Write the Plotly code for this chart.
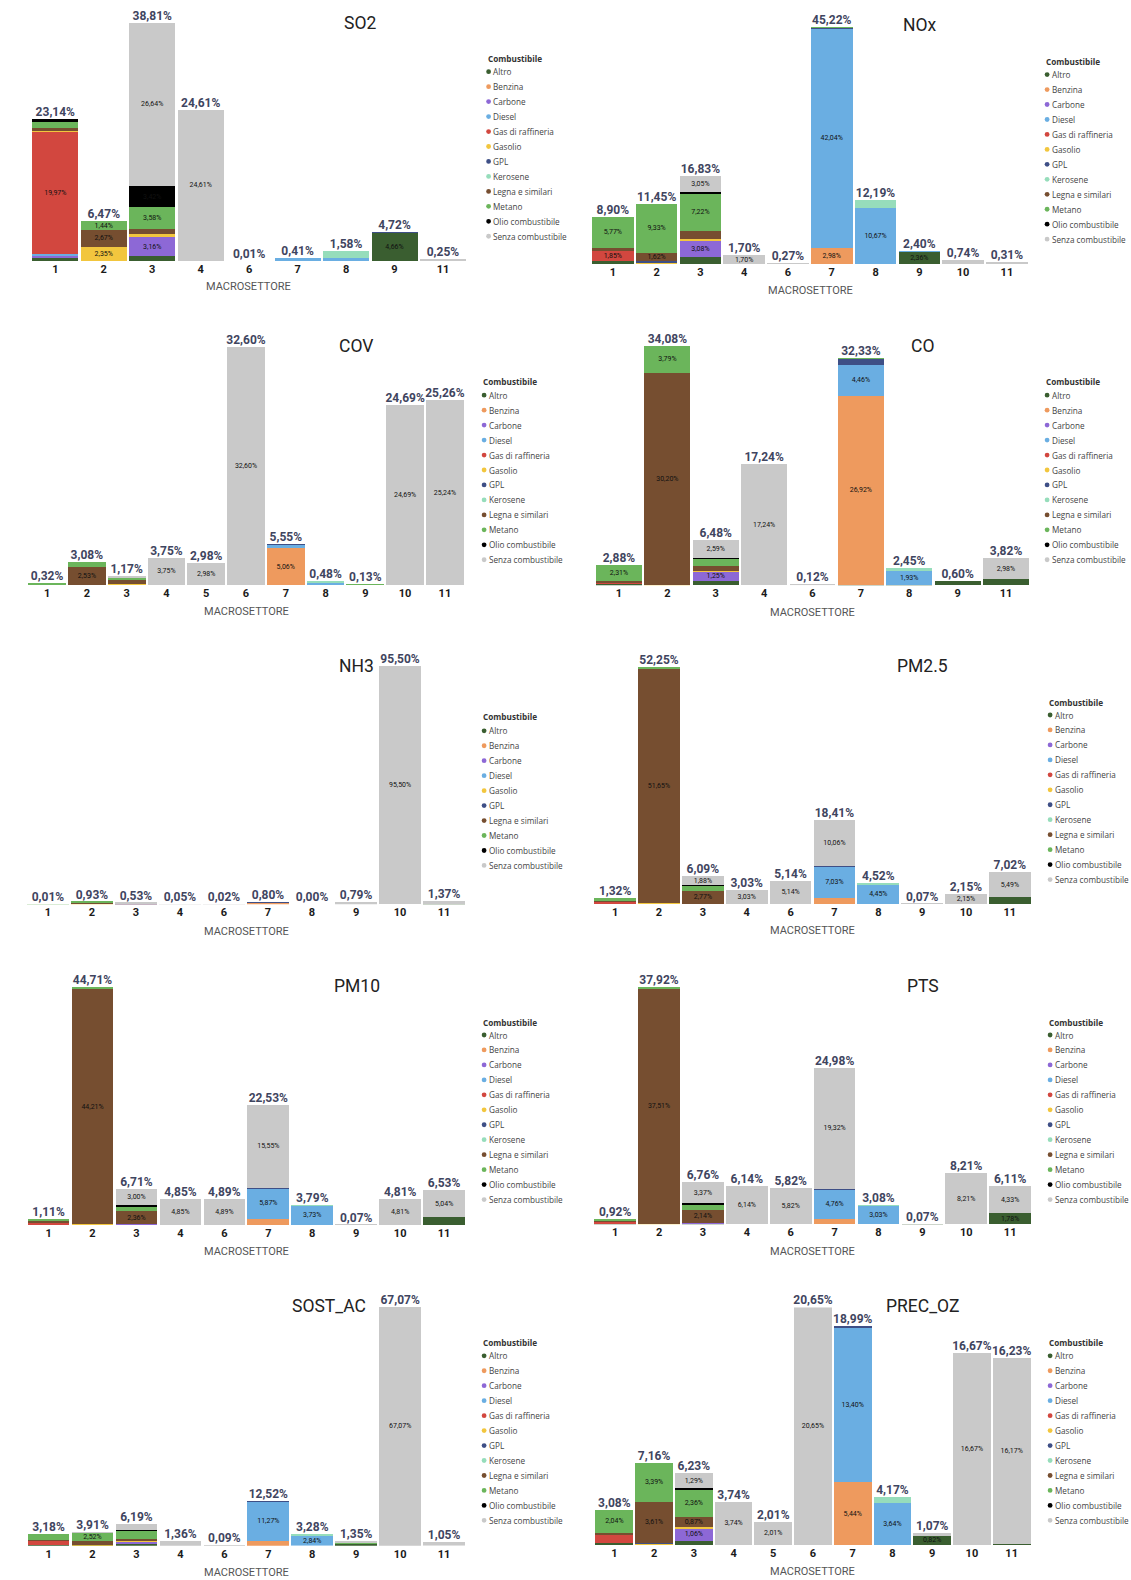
import plotly.graph_objects as go

W, H = 1131, 1580

FUELS = ["Altro", "Benzina", "Carbone", "Diesel", "Gas di raffineria", "Gasolio",
         "GPL", "Kerosene", "Legna e similari", "Metano", "Olio combustibile",
         "Senza combustibile"]
FUEL_COLORS = ["#3A5E30", "#EE9A5E", "#8D68D6", "#6AAEE2", "#D2473F", "#F2C63E",
               "#3E4F86", "#96DDBB", "#764E30", "#6BB55B", "#000000", "#C9C9C9"]

# ---------------- SO2 ----------------
SO2_SECTORS = ["1", "2", "3", "4", "6", "7", "8", "9", "11"]
SO2_VALUES = {
    "Altro":              [0.62, 0.01, 0.76, 0, 0, 0, 0, 4.66, 0],
    "Benzina":            [0, 0, 0, 0, 0, 0.20, 0, 0, 0],
    "Carbone":            [0.30, 0, 3.16, 0, 0, 0, 0, 0, 0],
    "Diesel":             [0.20, 0, 0, 0, 0, 0.21, 0.46, 0, 0],
    "Gas di raffineria":  [19.97, 0, 0, 0, 0, 0, 0, 0, 0],
    "Gasolio":            [0.22, 2.35, 0.49, 0, 0, 0, 0, 0, 0],
    "GPL":                [0, 0, 0, 0, 0, 0, 0, 0.06, 0],
    "Kerosene":           [0, 0, 0, 0, 0, 0, 1.12, 0, 0],
    "Legna e similari":   [0.30, 2.67, 0.76, 0, 0, 0, 0, 0, 0],
    "Metano":             [1.04, 1.44, 3.58, 0, 0, 0, 0, 0, 0],
    "Olio combustibile":  [0.49, 0, 3.42, 0, 0, 0, 0, 0, 0],
    "Senza combustibile": [0, 0, 26.64, 24.61, 0.01, 0, 0, 0, 0.25],
}

# ---------------- NOx ----------------
NOX_SECTORS = ["1", "2", "3", "4", "6", "7", "8", "9", "10", "11"]
NOX_VALUES = {
    "Altro":              [0.65, 0, 1.26, 0, 0, 0, 0, 2.36, 0, 0],
    "Benzina":            [0, 0, 0, 0, 0, 2.98, 0, 0, 0, 0],
    "Carbone":            [0, 0, 3.08, 0, 0, 0, 0, 0, 0, 0],
    "Diesel":             [0, 0, 0, 0, 0, 42.04, 10.67, 0.04, 0, 0],
    "Gas di raffineria":  [1.85, 0, 0, 0, 0, 0, 0, 0, 0, 0],
    "Gasolio":            [0, 0.30, 0.38, 0, 0, 0, 0, 0, 0, 0],
    "GPL":                [0, 0.20, 0, 0, 0, 0.12, 0, 0, 0, 0],
    "Kerosene":           [0, 0, 0, 0, 0, 0, 1.52, 0, 0, 0],
    "Legna e similari":   [0.63, 1.62, 1.59, 0, 0, 0, 0, 0, 0, 0],
    "Metano":             [5.77, 9.33, 7.22, 0, 0, 0.08, 0, 0, 0, 0],
    "Olio combustibile":  [0, 0, 0.25, 0, 0, 0, 0, 0, 0, 0],
    "Senza combustibile": [0, 0, 3.05, 1.70, 0.27, 0, 0, 0, 0.74, 0.31],
}

# ---------------- COV ----------------
COV_SECTORS = ["1", "2", "3", "4", "5", "6", "7", "8", "9", "10", "11"]
COV_VALUES = {
    "Altro":              [0.05, 0, 0.10, 0, 0, 0, 0, 0, 0.08, 0, 0.02],
    "Benzina":            [0, 0, 0, 0, 0, 0, 5.06, 0, 0, 0, 0],
    "Carbone":            [0, 0, 0.05, 0, 0, 0, 0, 0, 0, 0, 0],
    "Diesel":             [0, 0, 0, 0, 0, 0, 0.46, 0.40, 0, 0, 0],
    "Gas di raffineria":  [0.03, 0, 0, 0, 0, 0, 0, 0, 0, 0, 0],
    "Gasolio":            [0, 0, 0.02, 0, 0, 0, 0, 0, 0, 0, 0],
    "GPL":                [0, 0, 0, 0, 0, 0, 0.03, 0, 0, 0, 0],
    "Kerosene":           [0, 0, 0, 0, 0, 0, 0, 0.08, 0, 0, 0],
    "Legna e similari":   [0.04, 2.53, 0.55, 0, 0, 0, 0, 0, 0, 0, 0],
    "Metano":             [0.20, 0.55, 0.28, 0, 0, 0, 0, 0, 0.05, 0, 0],
    "Olio combustibile":  [0, 0, 0.02, 0, 0, 0, 0, 0, 0, 0, 0],
    "Senza combustibile": [0, 0, 0.15, 3.75, 2.98, 32.60, 0, 0, 0, 24.69, 25.24],
}

# ---------------- CO ----------------
CO_SECTORS = ["1", "2", "3", "4", "6", "7", "8", "9", "11"]
CO_VALUES = {
    "Altro":              [0.22, 0, 0.65, 0, 0, 0.05, 0.05, 0.60, 0.84],
    "Benzina":            [0, 0, 0, 0, 0, 26.92, 0, 0, 0],
    "Carbone":            [0, 0, 1.25, 0, 0, 0, 0, 0, 0],
    "Diesel":             [0, 0, 0, 0, 0, 4.46, 1.93, 0, 0],
    "Gas di raffineria":  [0.18, 0, 0, 0, 0, 0, 0, 0, 0],
    "Gasolio":            [0, 0.09, 0.08, 0, 0, 0, 0, 0, 0],
    "GPL":                [0, 0, 0, 0, 0, 0.80, 0, 0, 0],
    "Kerosene":           [0, 0, 0, 0, 0, 0, 0.47, 0, 0],
    "Legna e similari":   [0.17, 30.20, 0.74, 0, 0, 0, 0, 0, 0],
    "Metano":             [2.31, 3.79, 1.12, 0, 0, 0.10, 0, 0, 0],
    "Olio combustibile":  [0, 0, 0.05, 0, 0, 0, 0, 0, 0],
    "Senza combustibile": [0, 0, 2.59, 17.24, 0.12, 0, 0, 0, 2.98],
}

# ---------------- NH3 ----------------
NH3_SECTORS = ["1", "2", "3", "4", "6", "7", "8", "9", "10", "11"]
NH3_VALUES = {
    "Altro":              [0, 0, 0, 0, 0, 0, 0, 0, 0, 0.02],
    "Benzina":            [0, 0, 0, 0, 0, 0.77, 0, 0, 0, 0],
    "Carbone":            [0, 0, 0.01, 0, 0, 0, 0, 0, 0, 0],
    "Diesel":             [0, 0, 0, 0, 0, 0.02, 0, 0, 0, 0],
    "Gasolio":            [0, 0.01, 0, 0, 0, 0, 0, 0, 0, 0],
    "GPL":                [0, 0, 0, 0, 0, 0.01, 0, 0, 0, 0],
    "Legna e similari":   [0, 0.90, 0.15, 0, 0, 0, 0, 0, 0, 0],
    "Metano":             [0.01, 0.02, 0.02, 0, 0, 0, 0, 0, 0, 0],
    "Olio combustibile":  [0, 0, 0.01, 0, 0, 0, 0, 0, 0, 0],
    "Senza combustibile": [0, 0, 0.34, 0.05, 0.02, 0, 0, 0.79, 95.50, 1.35],
}

# ---------------- PM2.5 ----------------
PM25_SECTORS = ["1", "2", "3", "4", "6", "7", "8", "9", "10", "11"]
PM25_VALUES = {
    "Altro":              [0.04, 0, 0.06, 0, 0, 0, 0, 0.04, 0, 1.53],
    "Benzina":            [0, 0, 0, 0, 0, 1.31, 0, 0, 0, 0],
    "Carbone":            [0, 0, 0.04, 0, 0, 0, 0, 0, 0, 0],
    "Diesel":             [0, 0, 0, 0, 0, 7.03, 4.45, 0, 0, 0],
    "Gas di raffineria":  [0.62, 0, 0, 0, 0, 0, 0, 0, 0, 0],
    "Gasolio":            [0, 0.14, 0, 0, 0, 0, 0, 0, 0, 0],
    "GPL":                [0, 0, 0, 0, 0, 0.01, 0, 0, 0, 0],
    "Kerosene":           [0, 0, 0, 0, 0, 0, 0.07, 0, 0, 0],
    "Legna e similari":   [0.06, 51.65, 2.77, 0, 0, 0, 0, 0, 0, 0],
    "Metano":             [0.60, 0.46, 1.17, 0, 0, 0, 0, 0, 0, 0],
    "Olio combustibile":  [0, 0, 0.17, 0, 0, 0, 0, 0, 0, 0],
    "Senza combustibile": [0, 0, 1.88, 3.03, 5.14, 10.06, 0, 0.03, 2.15, 5.49],
}

# ---------------- PM10 ----------------
PM10_SECTORS = ["1", "2", "3", "4", "6", "7", "8", "9", "10", "11"]
PM10_VALUES = {
    "Altro":              [0.05, 0, 0.12, 0, 0, 0, 0, 0.04, 0, 1.49],
    "Benzina":            [0, 0, 0, 0, 0, 1.10, 0, 0, 0, 0],
    "Carbone":            [0, 0, 0.10, 0, 0, 0, 0, 0, 0, 0],
    "Diesel":             [0, 0, 0, 0, 0, 5.87, 3.73, 0, 0, 0],
    "Gas di raffineria":  [0.55, 0, 0, 0, 0, 0, 0, 0, 0, 0],
    "Gasolio":            [0, 0.10, 0, 0, 0, 0, 0, 0, 0, 0],
    "GPL":                [0, 0, 0, 0, 0, 0.01, 0, 0, 0, 0],
    "Kerosene":           [0, 0, 0, 0, 0, 0, 0.06, 0, 0, 0],
    "Legna e similari":   [0.06, 44.21, 2.36, 0, 0, 0, 0, 0, 0, 0],
    "Metano":             [0.45, 0.40, 0.94, 0, 0, 0, 0, 0, 0, 0],
    "Olio combustibile":  [0, 0, 0.19, 0, 0, 0, 0, 0, 0, 0],
    "Senza combustibile": [0, 0, 3.00, 4.85, 4.89, 15.55, 0, 0.03, 4.81, 5.04],
}

# ---------------- PTS ----------------
PTS_SECTORS = ["1", "2", "3", "4", "6", "7", "8", "9", "10", "11"]
PTS_VALUES = {
    "Altro":              [0.04, 0, 0.11, 0, 0, 0, 0, 0.04, 0, 1.78],
    "Benzina":            [0, 0, 0, 0, 0, 0.89, 0, 0, 0, 0],
    "Carbone":            [0, 0, 0.08, 0, 0, 0, 0, 0, 0, 0],
    "Diesel":             [0, 0, 0, 0, 0, 4.76, 3.03, 0, 0, 0],
    "Gas di raffineria":  [0.40, 0, 0, 0, 0, 0, 0, 0, 0, 0],
    "Gasolio":            [0, 0.08, 0, 0, 0, 0, 0, 0, 0, 0],
    "GPL":                [0, 0, 0, 0, 0, 0.01, 0, 0, 0, 0],
    "Kerosene":           [0, 0, 0, 0, 0, 0, 0.05, 0, 0, 0],
    "Legna e similari":   [0.18, 37.51, 2.14, 0, 0, 0, 0, 0, 0, 0],
    "Metano":             [0.30, 0.33, 0.90, 0, 0, 0, 0, 0, 0, 0],
    "Olio combustibile":  [0, 0, 0.16, 0, 0, 0, 0, 0, 0, 0],
    "Senza combustibile": [0, 0, 3.37, 6.14, 5.82, 19.32, 0, 0.03, 8.21, 4.33],
}

# ---------------- SOST_AC ----------------
SOSTAC_SECTORS = ["1", "2", "3", "4", "6", "7", "8", "9", "10", "11"]
SOSTAC_VALUES = {
    "Altro":              [0.12, 0.05, 0.37, 0, 0, 0, 0, 0.80, 0, 0],
    "Benzina":            [0, 0, 0, 0, 0, 1.24, 0, 0, 0, 0],
    "Carbone":            [0, 0, 0.86, 0, 0, 0, 0, 0, 0, 0],
    "Diesel":             [0, 0, 0, 0, 0, 11.27, 2.84, 0, 0, 0],
    "Gas di raffineria":  [1.34, 0, 0, 0, 0, 0, 0, 0, 0, 0],
    "Gasolio":            [0, 0.12, 0.28, 0, 0, 0, 0, 0, 0, 0],
    "GPL":                [0, 0, 0, 0, 0, 0.01, 0, 0, 0, 0],
    "Kerosene":           [0, 0, 0, 0, 0, 0, 0.44, 0, 0, 0],
    "Legna e similari":   [0.10, 1.12, 0.50, 0, 0, 0, 0, 0, 0, 0],
    "Metano":             [1.62, 2.52, 2.25, 0, 0, 0, 0, 0.10, 0, 0],
    "Olio combustibile":  [0, 0, 0.19, 0, 0, 0, 0, 0, 0, 0],
    "Senza combustibile": [0, 0.10, 1.74, 1.36, 0.09, 0, 0, 0.45, 67.07, 1.05],
}

# ---------------- PREC_OZ ----------------
PRECOZ_SECTORS = ["1", "2", "3", "4", "5", "6", "7", "8", "9", "10", "11"]
PRECOZ_VALUES = {
    "Altro":              [0.20, 0, 0.39, 0, 0, 0, 0, 0, 0.82, 0, 0.06],
    "Benzina":            [0, 0, 0, 0, 0, 0, 5.44, 0, 0, 0, 0],
    "Carbone":            [0, 0, 1.06, 0, 0, 0, 0, 0, 0, 0, 0],
    "Diesel":             [0, 0, 0, 0, 0, 0, 13.40, 3.64, 0, 0, 0],
    "Gas di raffineria":  [0.72, 0, 0, 0, 0, 0, 0, 0, 0, 0, 0],
    "Gasolio":            [0, 0.08, 0.14, 0, 0, 0, 0, 0, 0, 0, 0],
    "GPL":                [0, 0.08, 0, 0, 0, 0, 0.15, 0, 0, 0, 0],
    "Kerosene":           [0, 0, 0, 0, 0, 0, 0, 0.53, 0, 0, 0],
    "Legna e similari":   [0.12, 3.61, 0.87, 0, 0, 0, 0, 0, 0, 0, 0],
    "Metano":             [2.04, 3.39, 2.36, 0, 0, 0, 0, 0, 0, 0, 0],
    "Olio combustibile":  [0, 0, 0.12, 0, 0, 0, 0, 0, 0, 0, 0],
    "Senza combustibile": [0, 0, 1.29, 3.74, 2.01, 20.65, 0, 0, 0.25, 16.67, 16.17],
}

PANELS = [
    ("SO2", SO2_SECTORS, SO2_VALUES),
    ("NOx", NOX_SECTORS, NOX_VALUES),
    ("COV", COV_SECTORS, COV_VALUES),
    ("CO", CO_SECTORS, CO_VALUES),
    ("NH3", NH3_SECTORS, NH3_VALUES),
    ("PM2.5", PM25_SECTORS, PM25_VALUES),
    ("PM10", PM10_SECTORS, PM10_VALUES),
    ("PTS", PTS_SECTORS, PTS_VALUES),
    ("SOST_AC", SOSTAC_SECTORS, SOSTAC_VALUES),
    ("PREC_OZ", PRECOZ_SECTORS, PRECOZ_VALUES),
]

# Page geometry in pixels: left edge of first bar, right edge of last bar,
# baseline, top of the tallest bar
BOXES = {
    "SO2":     (32.3, 466.0, 261.0, 22.7),
    "NOx":     (592.0, 1027.7, 264.0, 26.7),
    "COV":     (26.0, 466.0, 585.0, 346.7),
    "CO":      (596.0, 1029.0, 585.3, 346.0),
    "NH3":     (27.0, 465.0, 904.3, 666.0),
    "PM2.5":   (594.3, 1030.7, 904.0, 666.7),
    "PM10":    (27.7, 465.0, 1225.0, 986.7),
    "PTS":     (594.3, 1031.0, 1224.3, 986.7),
    "SOST_AC": (27.7, 465.0, 1545.7, 1306.7),
    "PREC_OZ": (593.3, 1032.7, 1545.0, 1307.3),
}
TITLE_POS = {
    "SO2": (360, 22.7), "NOx": (920, 25), "COV": (356, 345.7), "CO": (922.7, 345.7),
    "NH3": (356.7, 665.7), "PM2.5": (922.7, 665.7), "PM10": (356.7, 986),
    "PTS": (923.3, 985.7), "SOST_AC": (329, 1306), "PREC_OZ": (922.7, 1306),
}
AXIS_TITLE_POS = {
    "SO2": (249, 287), "NOx": (810, 290.7), "COV": (246, 611), "CO": (812, 612),
    "NH3": (246, 931), "PM2.5": (812.7, 930.7), "PM10": (246, 1251),
    "PTS": (812.3, 1251), "SOST_AC": (246, 1572.3), "PREC_OZ": (812.3, 1571.7),
}
# legend: left x, title centre y, first item centre y
LEGEND_POS = {
    "SO2": (486.5, 58.8, 71.7), "NOx": (1045, 61.5, 74.6),
    "COV": (482, 382, 395.2), "CO": (1045, 382, 395.2),
    "NH3": (482, 716.7, 730.8), "PM2.5": (1048, 702.7, 715),
    "PM10": (482, 1022, 1035), "PTS": (1048, 1022, 1035),
    "SOST_AC": (482, 1342.7, 1355.8), "PREC_OZ": (1048, 1342.7, 1355.8),
}
LEGEND_STEP = 14.96
BARGAP = 0.05
MIN_LABEL_PX = 8.4

FONT = "Roboto, 'Noto Sans', sans-serif"
LEGEND_FONT = "'Open Sans', 'Noto Sans', sans-serif"
LABEL_COLOR = "#3F4560"
INNER_LABEL_COLOR = "#111111"


def px_x(x):
    return x / W


def px_y(y):
    return 1 - y / H


fig = go.Figure()
annotations = []
shapes = []
layout_axes = {}

for i, (name, sectors, values) in enumerate(PANELS):
    n = len(sectors)
    suffix = "" if i == 0 else str(i + 1)
    xa, ya = "x" + suffix, "y" + suffix
    bl, br, base, top = BOXES[name]

    totals = [round(sum(values[f][k] for f in values), 2) for k in range(n)]
    ymax = max(totals)
    px_per_unit = (base - top) / ymax

    for fuel, color in zip(FUELS, FUEL_COLORS):
        if fuel not in values:
            continue
        vals = values[fuel]
        templates = ["%{y:.2f}%" if v * px_per_unit >= MIN_LABEL_PX else "" for v in vals]
        inner_font = dict(family=FONT, size=7, color=INNER_LABEL_COLOR)
        fig.add_trace(go.Bar(
            x=sectors, y=vals, name=fuel, marker=dict(color=color, line=dict(width=0)),
            texttemplate=templates, textposition="inside", insidetextanchor="middle",
            textangle=0, constraintext="none",
            textfont=inner_font, insidetextfont=inner_font,
            xaxis=xa, yaxis=ya, showlegend=False, hoverinfo="skip",
        ))

    # stacked totals above each column
    fig.add_trace(go.Scatter(
        x=sectors, y=totals, mode="text", texttemplate="%{y:.2f}%",
        textposition="top center", cliponaxis=False,
        textfont=dict(family=FONT, size=12, color=LABEL_COLOR, weight="bold"),
        xaxis=xa, yaxis=ya, showlegend=False, hoverinfo="skip",
    ))

    cat = (br - bl) / (n - BARGAP)
    x0 = bl - cat * BARGAP / 2
    x1 = br + cat * BARGAP / 2
    layout_axes["xaxis" + suffix] = dict(
        domain=[px_x(x0), px_x(x1)], anchor=ya, type="category",
        categoryorder="array", categoryarray=sectors,
        showgrid=False, zeroline=False, showline=False, ticks="",
        tickfont=dict(family=FONT, size=11, color="#1A1A1A", weight="bold"),
        fixedrange=True,
    )
    layout_axes["yaxis" + suffix] = dict(
        domain=[px_y(base), px_y(top)], anchor=xa, range=[0, ymax],
        visible=False, fixedrange=True,
    )

    tx, ty = TITLE_POS[name]
    annotations.append(dict(
        text=name, x=px_x(tx), y=px_y(ty), xref="paper", yref="paper",
        xanchor="center", yanchor="middle", showarrow=False,
        font=dict(family=FONT, size=17.5, color="#222222"),
    ))
    ax, ay = AXIS_TITLE_POS[name]
    annotations.append(dict(
        text="MACROSETTORE", x=px_x(ax), y=px_y(ay), xref="paper", yref="paper",
        xanchor="center", yanchor="middle", showarrow=False,
        font=dict(family=FONT, size=11, color="#555555"),
    ))

    # legend of the fuels present in this panel
    lx, lty, liy = LEGEND_POS[name]
    annotations.append(dict(
        text="<b>Combustibile</b>", x=px_x(lx - 1), y=px_y(lty), xref="paper", yref="paper",
        xanchor="left", yanchor="middle", showarrow=False,
        font=dict(family=LEGEND_FONT, size=8.2, color="#333333"),
    ))
    row = 0
    for fuel, color in zip(FUELS, FUEL_COLORS):
        if fuel not in values or not any(v > 0 for v in values[fuel]):
            continue
        cy = liy + row * LEGEND_STEP
        r = 2.4
        shapes.append(dict(
            type="circle", xref="paper", yref="paper",
            x0=px_x(lx + 2.1 - r), x1=px_x(lx + 2.1 + r),
            y0=px_y(cy + r), y1=px_y(cy - r),
            fillcolor=color, line=dict(width=0),
        ))
        annotations.append(dict(
            text=fuel, x=px_x(lx + 4.6), y=px_y(cy), xref="paper", yref="paper",
            xanchor="left", yanchor="middle", showarrow=False,
            font=dict(family=LEGEND_FONT, size=8.2, color="#444444"),
        ))
        row += 1

fig.update_layout(
    width=W, height=H, margin=dict(l=0, r=0, t=0, b=0),
    paper_bgcolor="white", plot_bgcolor="white",
    barmode="stack", bargap=BARGAP, separators=",.",
    showlegend=False, annotations=annotations, shapes=shapes,
    **layout_axes,
)

fig.write_html("out.html", config={"displayModeBar": False})
